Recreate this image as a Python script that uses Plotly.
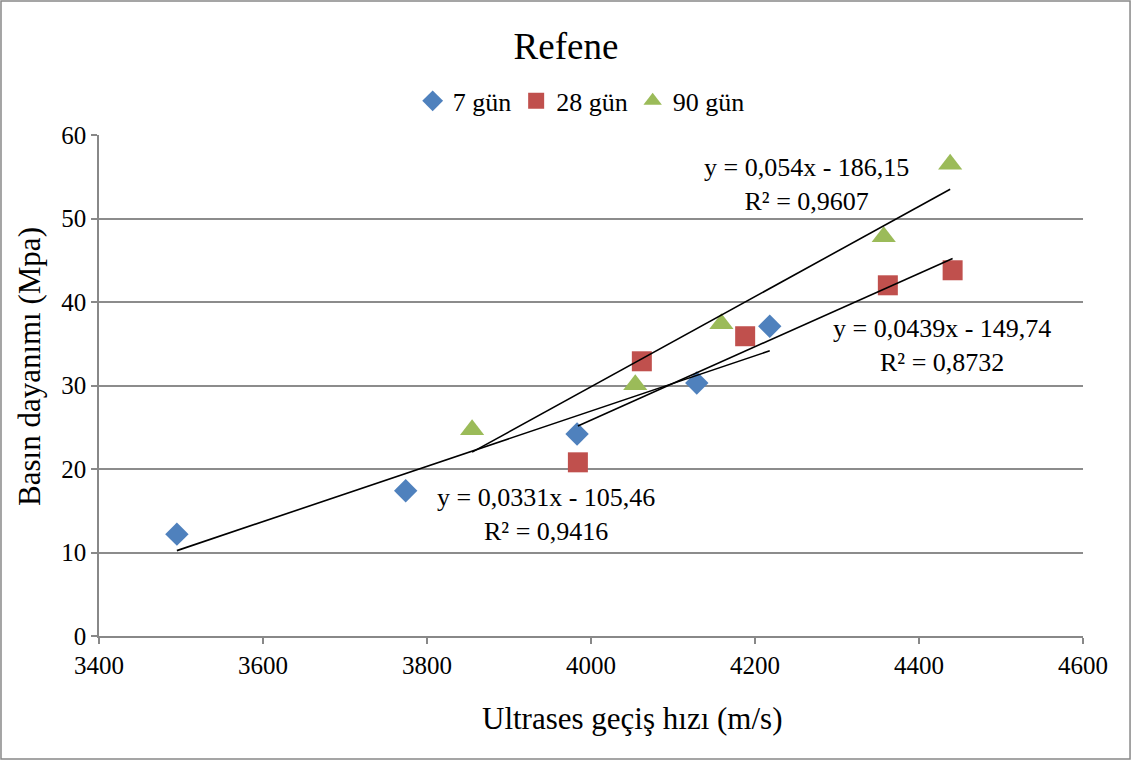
import plotly.graph_objects as go
import numpy as np

# Data
x7 = [3495, 3774, 3983, 4129, 4218]
y7 = [12.2, 17.4, 24.2, 30.3, 37.1]
x28 = [3984, 4062, 4188, 4362, 4441]
y28 = [20.8, 32.9, 35.9, 42.0, 43.8]
x90 = [3855, 4054, 4159, 4357, 4438]
y90 = [24.7, 30.1, 37.4, 47.8, 56.5]

series_names = ["7 gün", "28 gün", "90 gün"]
slopes = [0.0331, 0.0439, 0.054]
intercepts = [-105.46, -149.74, -186.15]
r2 = ["0,9416", "0,8732", "0,9607"]
eq_texts = ["y = 0,0331x - 105,46", "y = 0,0439x - 149,74", "y = 0,054x - 186,15"]

x_ticks = [3400, 3600, 3800, 4000, 4200, 4400, 4600]
y_ticks = [0, 10, 20, 30, 40, 50, 60]

FONT = "Liberation Serif, Times New Roman, serif"
colors = ["#4F81BD", "#C0504D", "#9BBB59"]
symbols = ["diamond", "square", "triangle-up"]
sizes = [18, 20, 21]

fig = go.Figure()
xs = [x7, x28, x90]
ys = [y7, y28, y90]
for i in range(3):
    fig.add_trace(go.Scatter(
        x=xs[i], y=ys[i], mode="markers", name=series_names[i],
        marker=dict(color=colors[i], symbol=symbols[i], size=sizes[i], line=dict(width=0)),
    ))
for i in range(3):
    xl = np.array([min(xs[i]), max(xs[i])])
    yl = slopes[i] * xl + intercepts[i]
    fig.add_trace(go.Scatter(
        x=xl, y=yl, mode="lines", showlegend=False, hoverinfo="skip",
        line=dict(color="black", width=1.6),
    ))

ann_pos = [(3945, 14.6), (4428, 34.8), (4263, 54.1)]
for i in range(3):
    fig.add_annotation(
        x=ann_pos[i][0], y=ann_pos[i][1], xref="x", yref="y",
        text=eq_texts[i] + "<br>R² = " + r2[i], showarrow=False,
        font=dict(family=FONT, size=26, color="black"), align="center",
    )

# Axis titles as annotations (positioned like the reference)
fig.add_annotation(x=0.5417, y=-0.1637, xref="paper", yref="paper", text="Ultrases geçiş hızı (m/s)",
                   showarrow=False, xanchor="center", yanchor="middle",
                   font=dict(family=FONT, size=31, color="black"))
fig.add_annotation(x=-0.0701, y=0.537, xref="paper", yref="paper", text="Basın dayanımı (Mpa)",
                   showarrow=False, xanchor="center", yanchor="middle", textangle=-90,
                   font=dict(family=FONT, size=31, color="black"))

fig.update_layout(
    width=1132, height=761,
    paper_bgcolor="white", plot_bgcolor="white",
    margin=dict(l=99, r=49, t=135, b=125),
    font=dict(family=FONT, color="black"),
    title=dict(text="Refene", x=0.5, xanchor="center", y=0.94, yanchor="middle",
               font=dict(family=FONT, size=37, color="black")),
    showlegend=True,
    legend=dict(orientation="h", x=0.49, xanchor="center", y=1.068, yanchor="middle",
                font=dict(family=FONT, size=26, color="black"),
                itemwidth=30, tracegroupgap=0, bgcolor="rgba(0,0,0,0)"),
    xaxis=dict(range=[3400, 4600], tickvals=x_ticks, ticktext=[str(v) for v in x_ticks],
               showgrid=False, zeroline=False, showline=True, linecolor="#888888", linewidth=1.5,
               ticks="outside", ticklen=6, tickcolor="#888888", tickwidth=1.5,
               tickfont=dict(family=FONT, size=25, color="black")),
    yaxis=dict(range=[0, 60], tickvals=y_ticks, ticktext=[str(v) for v in y_ticks],
               showgrid=True, gridcolor="#8C8C8C", gridwidth=1.5, zeroline=False,
               showline=True, linecolor="#888888", linewidth=1.5,
               ticks="outside", ticklen=6, tickcolor="#888888", tickwidth=1.5,
               tickfont=dict(family=FONT, size=25, color="black")),
    shapes=[dict(type="rect", xref="paper", yref="paper", x0=-0.0996, x1=1.0478, y0=-0.2455, y1=1.2675,
                 line=dict(color="#888888", width=1.5), fillcolor="rgba(0,0,0,0)", layer="below")],
)

fig.write_html("out.html")
